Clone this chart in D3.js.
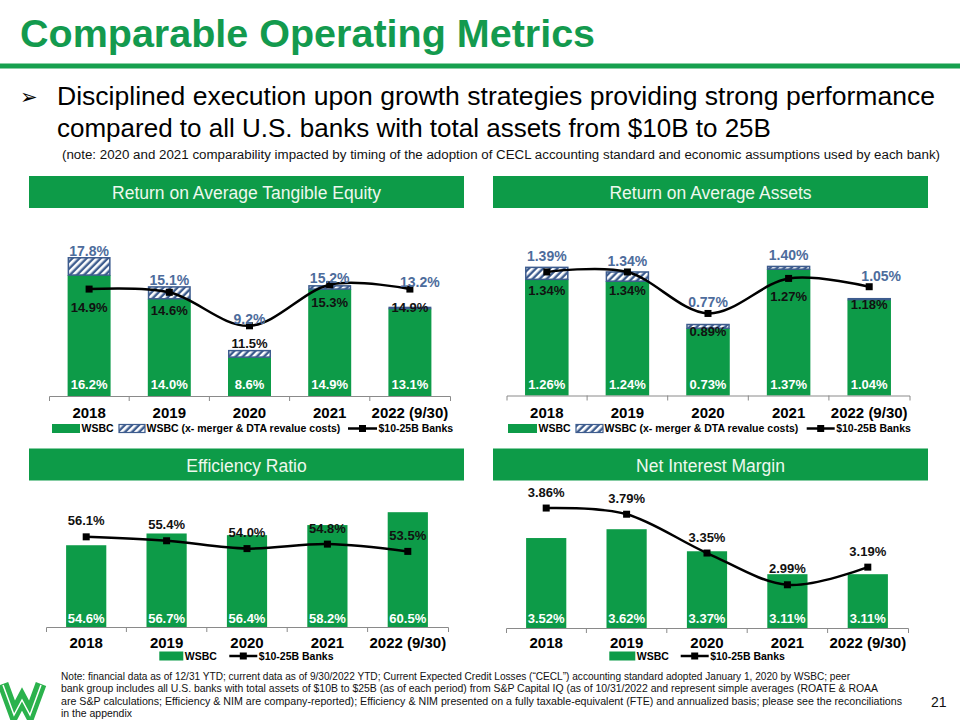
<!DOCTYPE html>
<html><head><meta charset="utf-8">
<script src="https://cdn.jsdelivr.net/npm/d3@7"></script>
<style>body{margin:0;background:#fff} svg{display:block;font-family:Arial,"Liberation Sans",sans-serif}</style>
</head><body><svg id="c" width="960" height="720"></svg>
<script>
// ---------- data ----------
const years = ["2018","2019","2020","2021","2022 (9/30)"];
const roateWSBC = [16.2,14.0,8.6,14.9,13.1];
const roateAdj  = [17.8,15.1,9.2,15.2,13.2];
const roatePeer = [14.9,14.6,11.5,15.3,14.9];
const roaaWSBC = [1.26,1.24,0.73,1.37,1.04];
const roaaAdj  = [1.39,1.34,0.77,1.40,1.05];
const roaaPeer = [1.34,1.34,0.89,1.27,1.18];
const effWSBC = [54.6,56.7,56.4,58.2,60.5];
const effPeer = [56.1,55.4,54.0,54.8,53.5];
const nimWSBC = [3.52,3.62,3.37,3.11,3.11];
const nimPeer = [3.86,3.79,3.35,2.99,3.19];
const panelTitles = ["Return on Average Tangible Equity","Return on Average Assets","Efficiency Ratio","Net Interest Margin"];
const legendLabels = ["WSBC","WSBC (x- merger & DTA revalue costs)","$10-25B Banks"];

// ---------- styles ----------
const GREEN = "#0d9b48", BLUE = "#3d5c8e", BLUE_TXT = "#4d6c9c";
const svg = d3.select("#c");
const defs = svg.append("defs");
const pat = defs.append("pattern").attr("id","hatch").attr("patternUnits","userSpaceOnUse")
  .attr("width",5).attr("height",5).attr("patternTransform","rotate(45)");
pat.append("rect").attr("width",5).attr("height",5).attr("fill",BLUE);
pat.append("rect").attr("width",2.6).attr("height",5).attr("fill","#fff");

// ---------- header ----------
svg.append("text").attr("x",20).attr("y",46.5).attr("fill","#139a4e")
  .attr("font-size",39.5).attr("font-weight","bold").text("Comparable Operating Metrics");
svg.append("rect").attr("x",0).attr("y",63.5).attr("width",960).attr("height",5).attr("fill","#17a04f");
svg.append("text").attr("x",20).attr("y",104).attr("font-size",21).attr("font-family","DejaVu Sans").text("➢");
svg.append("text").attr("x",57).attr("y",105).attr("font-size",26)
  .attr("textLength",878).attr("lengthAdjust","spacingAndGlyphs")
  .text("Disciplined execution upon growth strategies providing strong performance");
svg.append("text").attr("x",57).attr("y",137).attr("font-size",26)
  .text("compared to all U.S. banks with total assets from $10B to 25B");
svg.append("text").attr("x",62).attr("y",158.5).attr("font-size",12.5).attr("fill","#111")
  .attr("textLength",878).attr("lengthAdjust","spacingAndGlyphs")
  .text("(note: 2020 and 2021 comparability impacted by timing of the adoption of CECL accounting standard and economic assumptions used by each bank)");

// ---------- panels ----------
const panels = [
 {title:panelTitles[0], box:[29,176,435,32], xr:[49,450], yd:[5,20], yr:[396,234], pad:0.464, fmt:d3.format(".1f"),
  wsbc:roateWSBC, adj:roateAdj, peer:roatePeer, adjOff:-7, adjDx:[0,0,0,0,10], peerOff:18, whiteY:384.3, yearY:412.3, legY:428.5,
  legX:[52,119,348], legW:[28,26,29]},
 {title:panelTitles[1], box:[493,176,435,32], xr:[506.5,909.5], yd:[0,1.6], yr:[395.5,248], pad:0.46, fmt:d3.format(".2f"),
  wsbc:roaaWSBC, adj:roaaAdj, peer:roaaPeer, adjOff:-11, adjDx:[0,0,0,0,12], peerOff:18, whiteY:384.3, yearY:412.3, legY:428.5,
  legX:[508,576,806.7], legW:[29,27,28]},
 {title:panelTitles[2], box:[29,448.5,435,32], xr:[46,448], yd:[40,65], yr:[627,487], pad:0.5, fmt:d3.format(".1f"),
  wsbc:effWSBC, adj:null, peer:effPeer, peerOff:-16, whiteY:618.3, yearY:643, legY:656,
  legX:[159.3,null,229.3], legW:[24,0,28]},
 {title:panelTitles[3], box:[493,448.5,435,32], xr:[506,908], yd:[2.5,4.0], yr:[628,495.7], pad:0.5, fmt:d3.format(".2f"),
  wsbc:nimWSBC, adj:null, peer:nimPeer, peerOff:-16, whiteY:618.3, yearY:643, legY:656,
  legX:[609.3,null,680.7], legW:[26,0,28]}
];

panels.forEach(p => {
  const g = svg.append("g");
  // section header
  g.append("rect").attr("x",p.box[0]).attr("y",p.box[1]).attr("width",p.box[2]).attr("height",p.box[3]).attr("fill",GREEN);
  g.append("text").attr("x",p.box[0]+p.box[2]/2).attr("y",p.box[1]+23).attr("text-anchor","middle")
    .attr("font-size",17.5).attr("fill","#eef8ee").text(p.title);

  const x = d3.scaleBand().domain(years).range(p.xr).paddingInner(p.pad).paddingOuter(p.pad/2);
  const y = d3.scaleLinear().domain(p.yd).range(p.yr);
  const axisY = p.yr[0];
  const cx = i => x(years[i]) + x.bandwidth()/2;
  const rows = years.map((yr,i) => ({yr, i, w:p.wsbc[i], a:p.adj ? p.adj[i] : null, pe:p.peer[i]}));

  // bars
  g.selectAll(".bar").data(rows).join("rect")
    .attr("x",d=>x(d.yr)).attr("width",x.bandwidth())
    .attr("y",d=>y(d.w)).attr("height",d=>axisY - y(d.w)).attr("fill",GREEN);
  if (p.adj) {
    g.selectAll(".adj").data(rows).join("rect")
      .attr("x",d=>x(d.yr)+0.75).attr("width",x.bandwidth()-1.5)
      .attr("y",d=>y(d.a)).attr("height",d=>Math.max(0.5, y(d.w)-y(d.a)))
      .attr("fill","url(#hatch)").attr("stroke",BLUE).attr("stroke-width",1.5);
  }
  // axis
  const ax = g.append("g").attr("transform",`translate(0,${axisY})`)
    .call(d3.axisBottom(x).tickSize(0).tickSizeOuter(5).tickPadding(11));
  ax.select(".domain").attr("stroke","#8a8a8a");
  ax.selectAll("text").attr("font-size",15).attr("font-weight","bold").attr("fill","#000")
    .attr("font-family","Arial, 'Liberation Sans', sans-serif")
    .attr("y", p.yearY - axisY - 5.3).attr("dy","0.71em");
  const step = x.step();
  d3.range(1,years.length).forEach(k => {
    const bx = p.xr[0] + k*step;
    g.append("line").attr("x1",bx).attr("x2",bx).attr("y1",axisY).attr("y2",axisY+5).attr("stroke","#8a8a8a");
  });

  // peer line
  const line = d3.line().x(d=>cx(d.i)).y(d=>y(d.pe)).curve(d3.curveCardinal.tension(0));
  g.append("path").datum(rows).attr("d",line).attr("fill","none").attr("stroke","#000").attr("stroke-width",2.5);
  g.selectAll(".mk").data(rows).join("rect")
    .attr("x",d=>cx(d.i)-3.5).attr("y",d=>y(d.pe)-3.5).attr("width",7).attr("height",7).attr("fill","#000");

  // labels: white inside bars
  g.selectAll(".wl").data(rows).join("text")
    .attr("x",d=>cx(d.i)).attr("y",p.whiteY+4.6).attr("text-anchor","middle")
    .attr("font-size",13).attr("font-weight","bold").attr("fill","#fff")
    .text(d=>p.fmt(d.w)+"%");
  // blue labels
  if (p.adj) {
    g.selectAll(".bl").data(rows).join("text")
      .attr("x",d=>cx(d.i) + p.adjDx[d.i]).attr("y",d=>Math.min(y(d.a), y(d.pe)) + p.adjOff + 5)
      .attr("text-anchor","middle").attr("font-size",14).attr("font-weight","bold").attr("fill",BLUE_TXT)
      .text(d=>p.fmt(d.a)+"%");
  }
  // peer labels
  g.selectAll(".pl").data(rows).join("text")
    .attr("x",d=>cx(d.i)).attr("y",d=>y(d.pe) + p.peerOff + 4.6)
    .attr("text-anchor","middle").attr("font-size",13).attr("font-weight","bold").attr("fill","#111")
    .text(d=>p.fmt(d.pe)+"%");

  // legend
  const ly = p.legY;
  const lg = g.append("g").attr("font-size",10.5).attr("font-weight","bold");
  lg.append("rect").attr("x",p.legX[0]).attr("y",ly-4.5).attr("width",p.legW[0]).attr("height",9).attr("fill",GREEN);
  lg.append("text").attr("x",p.legX[0]+p.legW[0]+1.5).attr("y",ly+3.8).text(legendLabels[0]);
  if (p.adj) {
    lg.append("rect").attr("x",p.legX[1]).attr("y",ly-4).attr("width",p.legW[1]).attr("height",8)
      .attr("fill","url(#hatch)").attr("stroke",BLUE).attr("stroke-width",1.2);
    lg.append("text").attr("x",p.legX[1]+p.legW[1]+1.5).attr("y",ly+3.8).text(legendLabels[1]);
  }
  lg.append("line").attr("x1",p.legX[2]).attr("x2",p.legX[2]+p.legW[2]).attr("y1",ly).attr("y2",ly)
    .attr("stroke","#000").attr("stroke-width",2.5);
  lg.append("rect").attr("x",p.legX[2]+p.legW[2]/2-3.5).attr("y",ly-3.5).attr("width",7).attr("height",7).attr("fill","#000");
  lg.append("text").attr("x",p.legX[2]+p.legW[2]+1.5).attr("y",ly+3.8).text(legendLabels[2]);
});

// ---------- footer ----------
const logo = svg.append("g");
const wpts = [[3,684],[14,714],[22,699],[30,714],[41,684]];
logo.append("polyline").attr("points",wpts.map(d=>d.join(",")).join(" "))
  .attr("fill","none").attr("stroke","#2bb24c").attr("stroke-width",11).attr("stroke-linejoin","miter");
logo.append("polyline").attr("points",wpts.map(d=>[d[0],d[1]+1].join(",")).join(" "))
  .attr("fill","none").attr("stroke","#fff").attr("stroke-width",1.5);

const notes = [
 ["Note: financial data as of 12/31 YTD; current data as of 9/30/2022 YTD; Current Expected Credit Losses (“CECL”) accounting standard adopted January 1, 2020 by WSBC; peer",789],
 ["bank group includes all U.S. banks with total assets of $10B to $25B (as of each period) from S&P Capital IQ (as of 10/31/2022 and represent simple averages (ROATE & ROAA",817],
 ["are S&P calculations; Efficiency & NIM are company-reported); Efficiency & NIM presented on a fully taxable-equivalent (FTE) and annualized basis; please see the reconciliations",841],
 ["in the appendix",71]
];
notes.forEach((n,i) => {
  svg.append("text").attr("x",61).attr("y",679.5 + i*12.5).attr("font-size",11).attr("fill","#111")
    .attr("textLength",n[1]).attr("lengthAdjust","spacingAndGlyphs").text(n[0]);
});
svg.append("text").attr("x",931).attr("y",707).attr("font-size",14).attr("fill","#111").text("21");
</script></body></html>
